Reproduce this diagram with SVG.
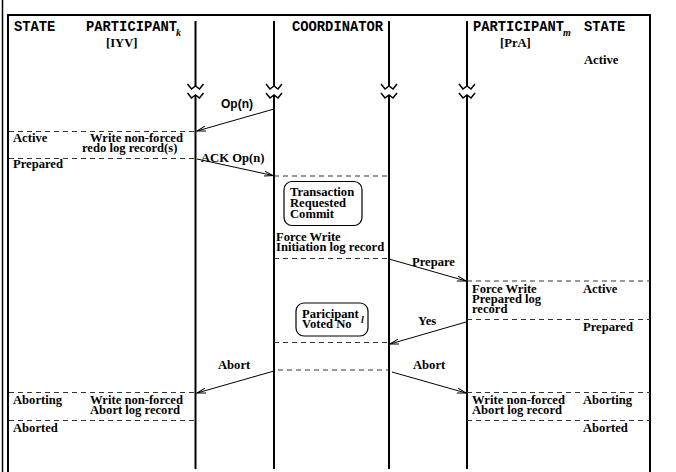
<svg xmlns="http://www.w3.org/2000/svg" width="676" height="472" viewBox="0 0 676 472">
<defs>
<marker id="ah" markerUnits="userSpaceOnUse" markerWidth="12" markerHeight="8" refX="9" refY="3" orient="auto">
<path d="M0,0.5 L9,3 L0,5.5" fill="none" stroke="#000" stroke-width="1"/>
</marker>
<symbol id="brk" overflow="visible">
<path d="M-8,0 L-4,5 L0,2 L4,5 L8,0 M-8,9 L-4,14 L0,11 L4,14 L8,9" fill="none" stroke="#000" stroke-width="1.5"/>
</symbol>
<style>
.hd{font-family:"Liberation Mono",monospace;font-weight:bold;font-size:13.8px;fill:#000}
.t{font-family:"Liberation Serif",serif;font-weight:bold;font-size:12.6px;fill:#000}
.s{font-family:"Liberation Sans",sans-serif;font-weight:bold;font-size:12px;fill:#000}
.sub{font-family:"Liberation Serif",serif;font-weight:bold;font-style:italic;font-size:10px;fill:#000}
.life{stroke:#000;stroke-width:2;fill:none}
.dash{stroke:#333;stroke-width:1;stroke-dasharray:5,4;fill:none}
.msg{stroke:#000;stroke-width:1;fill:none;marker-end:url(#ah)}
.box{fill:#fff;stroke:#000;stroke-width:1.2}
</style>
</defs>
<rect width="676" height="472" fill="#fff"/>
<g id="frame">
<line x1="2.5" y1="0" x2="2.5" y2="472" stroke="#000" stroke-width="1.5"/>
<path d="M8,472 V15 H650 V472" fill="none" stroke="#000" stroke-width="2"/>
</g>
<g id="headers">
<text class="hd" x="14" y="31">STATE</text>
<text class="hd" x="86" y="31">PARTICIPANT</text>
<text class="sub" x="176" y="36">k</text>
<text class="t" x="106" y="47">[IYV]</text>
<text class="hd" x="292" y="31">COORDINATOR</text>
<text class="hd" x="473" y="31">PARTICIPANT</text>
<text class="sub" x="563" y="36">m</text>
<text class="hd" x="584" y="31">STATE</text>
<text class="t" x="500" y="47">[PrA]</text>
<text class="t" x="584" y="64">Active</text>
</g>
<g id="lifelines">
<path class="life" d="M195.5,21 V86 M195.5,95 V469"/>
<path class="life" d="M274,21 V86 M274,95 V469"/>
<path class="life" d="M389,21 V86 M389,95 V469"/>
<path class="life" d="M467,21 V86 M467,95 V469"/>
<use href="#brk" x="195.5" y="84"/>
<use href="#brk" x="274" y="84"/>
<use href="#brk" x="389" y="84"/>
<use href="#brk" x="467" y="84"/>
</g>
<g id="dashes">
<line class="dash" x1="9" y1="131.5" x2="195" y2="131.5"/>
<line class="dash" x1="9" y1="158.5" x2="195" y2="158.5"/>
<line class="dash" x1="274" y1="176" x2="389" y2="176"/>
<line class="dash" x1="274" y1="258.5" x2="389" y2="258.5"/>
<line class="dash" x1="467" y1="281" x2="650" y2="281"/>
<line class="dash" x1="467" y1="319.5" x2="650" y2="319.5"/>
<line class="dash" x1="274" y1="342.5" x2="389" y2="342.5"/>
<line class="dash" x1="278" y1="370" x2="389" y2="370"/>
<line class="dash" x1="9" y1="392.5" x2="195" y2="392.5"/>
<line class="dash" x1="9" y1="420.5" x2="195" y2="420.5"/>
<line class="dash" x1="467" y1="392.5" x2="650" y2="392.5"/>
<line class="dash" x1="467" y1="420.5" x2="650" y2="420.5"/>
</g>
<g id="connectors">
<line class="msg" x1="274" y1="109" x2="197" y2="131"/>
<line class="msg" x1="197" y1="159" x2="273" y2="175.5"/>
<line class="msg" x1="389" y1="259" x2="466" y2="281"/>
<line class="msg" x1="466" y1="322" x2="390" y2="344"/>
<line class="msg" x1="274" y1="371" x2="197" y2="393"/>
<line class="msg" x1="392" y1="372" x2="466" y2="393"/>
</g>
<g id="labels">
<text class="s" x="221" y="108">Op(n)</text>
<text class="t" x="201" y="162">ACK Op(n)</text>
<text class="t" x="412" y="266">Prepare</text>
<text class="t" x="418" y="325">Yes</text>
<text class="t" x="218" y="369">Abort</text>
<text class="t" x="413" y="369">Abort</text>
</g>
<g id="participant-k-states">
<text class="t" x="13" y="142">Active</text>
<text class="t" x="90" y="142">Write non-forced</text>
<text class="t" x="82" y="152">redo log record(s)</text>
<text class="t" x="13" y="168">Prepared</text>
<text class="t" x="13" y="404">Aborting</text>
<text class="t" x="90" y="404">Write non-forced</text>
<text class="t" x="90" y="414">Abort log record</text>
<text class="t" x="13" y="432">Aborted</text>
</g>
<g id="coordinator-notes">
<rect class="box" x="284" y="181.5" width="78" height="44" rx="8"/>
<text class="t" x="290" y="196">Transaction</text>
<text class="t" x="290" y="207">Requested</text>
<text class="t" x="290" y="218">Commit</text>
<text class="t" x="276" y="241">Force Write</text>
<text class="t" x="276" y="251">Initiation log record</text>
<rect class="box" x="296" y="303" width="72" height="33" rx="8"/>
<text class="t" x="302" y="318">Paricipant</text>
<text class="sub" x="361" y="323">l</text>
<text class="t" x="302" y="328">Voted No</text>
</g>
<g id="participant-m-states">
<text class="t" x="472" y="293">Force Write</text>
<text class="t" x="472" y="303">Prepared log</text>
<text class="t" x="472" y="313">record</text>
<text class="t" x="583" y="293">Active</text>
<text class="t" x="583" y="331">Prepared</text>
<text class="t" x="472" y="404">Write non-forced</text>
<text class="t" x="472" y="414">Abort log record</text>
<text class="t" x="583" y="404">Aborting</text>
<text class="t" x="583" y="432">Aborted</text>
</g>
</svg>
